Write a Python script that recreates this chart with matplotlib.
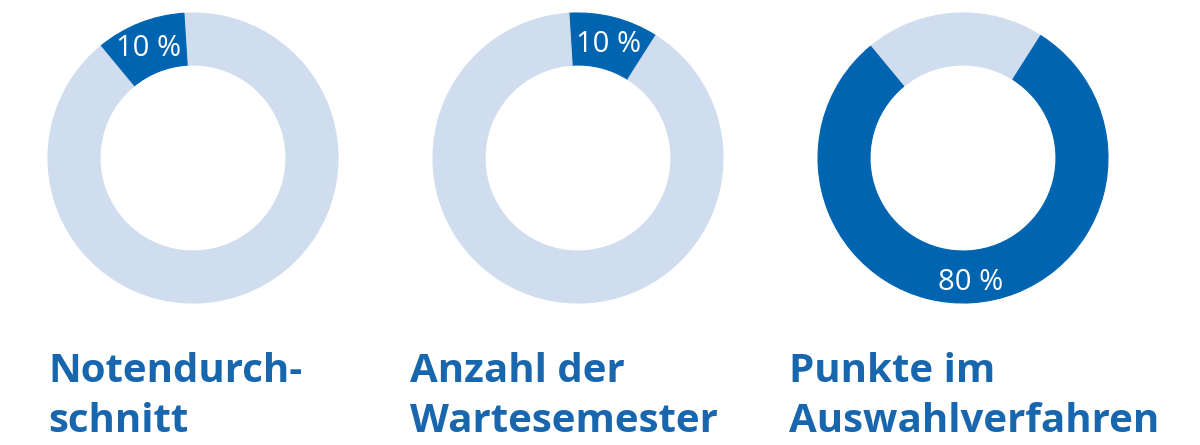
import matplotlib
matplotlib.use('Agg')
from matplotlib import pyplot
import numpy as np

# share of each criterion, going counter-clockwise from the right-hand seam
criteria = ['Anzahl der Wartesemester', 'Notendurchschnitt', 'Punkte im Auswahlverfahren']
shares = [10, 10, 80]
# which share each donut highlights
highlight = [1, 0, 2]
titles = ['Notendurch-\nschnitt', 'Anzahl der\nWartesemester', 'Punkte im\nAuswahlverfahren']

DARK = '#0064b0'
LIGHT = '#d0ddef'
TITLE_COLOR = '#1866ae'

W, H = 1200, 445
centers_x = [193, 578, 963]
center_y = H - 158
outer_r = 145
ring_w = 52
title_x = [48, 410, 789]
title_baseline = H - 382
line_step = 50

fig = pyplot.figure(figsize=(W / 100, H / 100), dpi=100)
ax = fig.add_axes((0, 0, 1, 1))

for cx, hi, title, tx in zip(centers_x, highlight, titles, title_x):
    colors = [DARK if i == hi else LIGHT for i in range(len(shares))]
    wedges, _ = ax.pie(shares, colors=colors, startangle=57.6, counterclock=True,
                       radius=outer_r, center=(cx, center_y),
                       wedgeprops=dict(width=ring_w, linewidth=0.8))
    for w, c in zip(wedges, colors):
        w.set_edgecolor(c)
    w = wedges[hi]
    mid = (w.theta1 + w.theta2) / 2
    r_mid = outer_r - ring_w / 2 + 2
    lx = cx + r_mid * np.cos(np.radians(mid))
    ly = center_y + r_mid * np.sin(np.radians(mid))
    ax.text(lx, ly, f'{shares[hi]} %', color='white', fontsize=21, family='Open Sans',
            ha='center', va='center_baseline')
    for k, line in enumerate(title.split('\n')):
        ax.text(tx, title_baseline - k * line_step, line, color=TITLE_COLOR, fontsize=29,
                family='Open Sans', fontweight='bold', ha='left', va='baseline')

ax.set_xlim(0, W)
ax.set_ylim(0, H)
ax.set_aspect('equal')
ax.axis('off')
fig.savefig('out.png', dpi=100, facecolor='white')
